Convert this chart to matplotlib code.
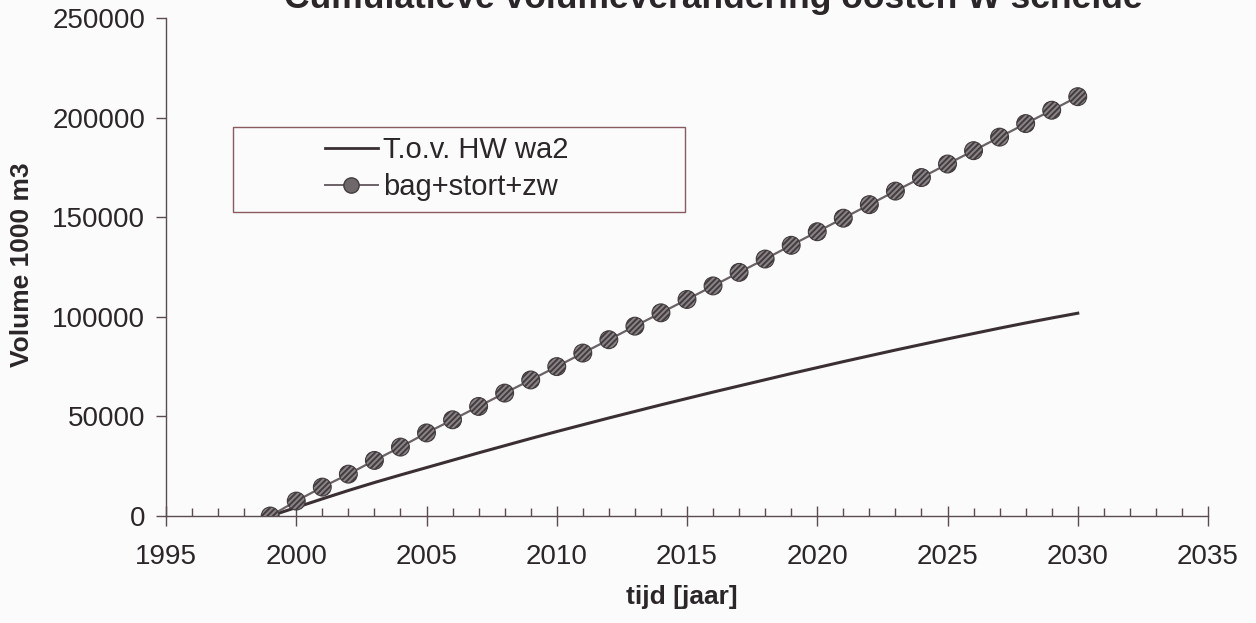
import matplotlib
matplotlib.use("Agg")
import matplotlib.pyplot as plt
from matplotlib.lines import Line2D
from matplotlib.patches import Rectangle
from matplotlib.ticker import MultipleLocator

years_line = [1999, 2000, 2001, 2002, 2003, 2004, 2005, 2006, 2007, 2008, 2009,
              2010, 2011, 2012, 2013, 2014, 2015, 2016, 2017, 2018, 2019, 2020,
              2021, 2022, 2023, 2024, 2025, 2026, 2027, 2028, 2029, 2030]
tov_hw_wa2 = [0, 4300, 8600, 12800, 16800, 20600, 24300, 28000, 31700, 35300, 38900,
              42400, 45800, 49200, 52500, 55800, 59000, 62200, 65300, 68400, 71500, 74500,
              77500, 80400, 83300, 86100, 88900, 91600, 94300, 96900, 99400, 101800]

years_marker = years_line
bag_stort_zw = [0, 7500, 14500, 21000, 27900, 34600, 41700, 48300, 55000, 61700, 68300,
                75000, 81800, 88500, 95300, 102000, 108700, 115500, 122300, 129000, 135900,
                142700, 149500, 156300, 163100, 169900, 176700, 183400, 190200, 197000,
                203700, 210500]

label_line = "T.o.v. HW wa2"
label_marker = "bag+stort+zw"
title = "Cumulatieve volumeverandering oosten W schelde"
xlabel = "tijd [jaar]"
ylabel = "Volume 1000 m3"

plt.rcParams['font.family'] = ['Liberation Sans', 'DejaVu Sans']
plt.rcParams['hatch.linewidth'] = 1.4
TXT = '#2b2629'
SPINE = '#5a4c50'
BG = '#fbfbfb'
W, H = 1256, 623

fig = plt.figure(figsize=(12.56, 6.23), dpi=100, facecolor=BG)
ax = fig.add_axes([166/W, 1-516/H, (1208-166)/W, (516-18)/H])
ax.set_facecolor(BG)

ax.plot(years_line, tov_hw_wa2, color='#3a3034', lw=2.2, zorder=3)
ax.plot(years_marker, bag_stort_zw, color='#6a6266', lw=1.6, zorder=3)
ax.scatter(years_marker, bag_stort_zw, s=165, facecolor='#8a8387', edgecolor='#433c3f',
           hatch='//////', linewidth=0.8, zorder=4)

ax.set_xlim(1995, 2035)
ax.set_ylim(0, 250000)
ax.xaxis.set_major_locator(MultipleLocator(5))
ax.xaxis.set_minor_locator(MultipleLocator(1))
ax.yaxis.set_major_locator(MultipleLocator(50000))

for s in ['top', 'right']:
    ax.spines[s].set_visible(False)
for s in ['left', 'bottom']:
    ax.spines[s].set_color(SPINE)
    ax.spines[s].set_linewidth(1.0)

ax.tick_params(axis='x', which='major', direction='inout', length=14, width=1.0,
               color=SPINE, labelsize=20, labelcolor=TXT, pad=13)
ax.tick_params(axis='x', which='minor', direction='in', length=6, width=1.0, color=SPINE)
ax.tick_params(axis='y', which='major', direction='out', length=7, width=1.0,
               color=SPINE, labelsize=20, labelcolor=TXT, pad=8)

fig.text(682/W, 1-597/H, xlabel, ha='center', va='center', fontsize=19,
         fontweight='bold', color=TXT)
fig.text(22/W, 1-265/H, ylabel, ha='center', va='center', rotation=90, fontsize=19,
         fontweight='bold', color=TXT)

fig.text(713/W, 1-8/H, title, ha='center', va='baseline', fontsize=25.5,
         fontweight='bold', color=TXT)

# legend box
fig.patches.append(Rectangle((233/W, 1-212/H), (685-233)/W, (212-127)/H,
                             transform=fig.transFigure, facecolor=BG,
                             edgecolor='#8a5a60', linewidth=1.0, zorder=5))
handles = [Line2D([], [], color='#3a3034', lw=2.0),
           Line2D([], [], color='#6a6266', lw=1.4, marker='o', markersize=11,
                  markerfacecolor='#6e686b', markeredgecolor='#433c3f')]
leg = fig.legend(handles, [label_line, label_marker], loc='upper left',
                 bbox_to_anchor=(325/W, 1-136/H), bbox_transform=fig.transFigure,
                 fontsize=21, frameon=False, borderpad=0, handlelength=1.8,
                 labelspacing=0.32, borderaxespad=0, handletextpad=0.2)
leg.set_zorder(6)
for t in leg.get_texts():
    t.set_color(TXT)

fig.savefig('out.png', dpi=100, facecolor=BG)
